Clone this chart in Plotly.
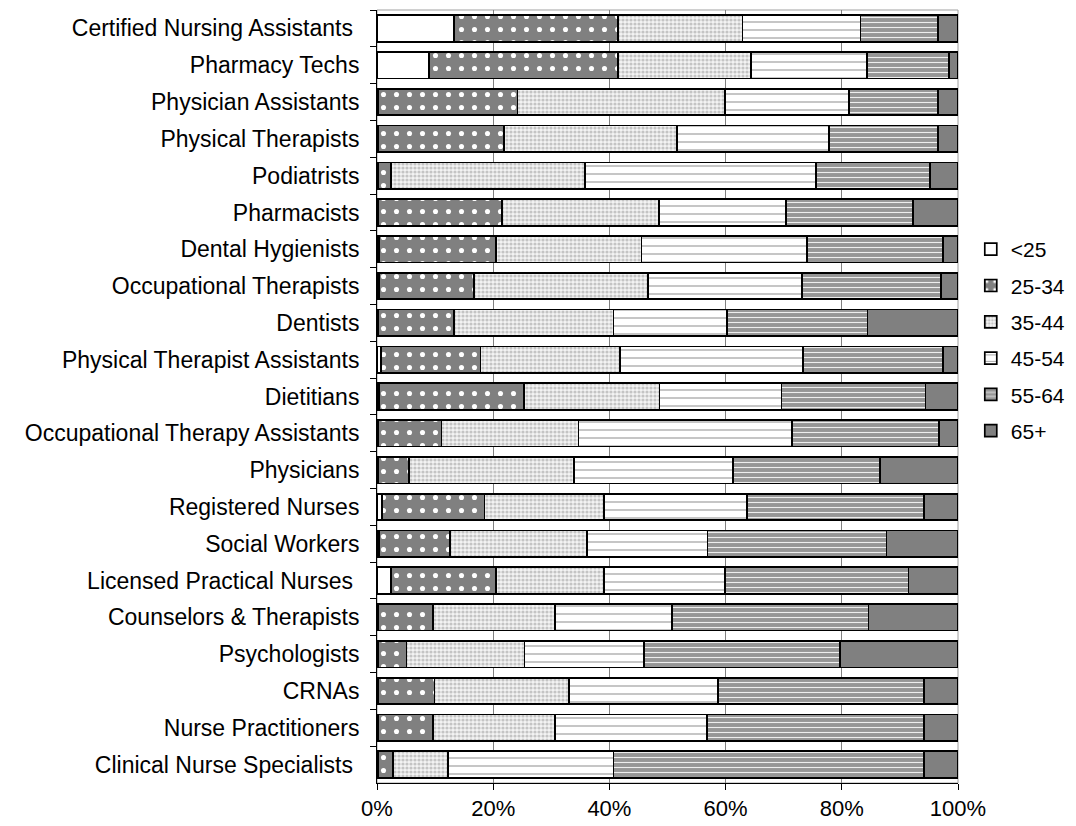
import plotly.graph_objects as go

categories = [
    "Certified Nursing Assistants\u00a0",
    "Pharmacy Techs",
    "Physician Assistants",
    "Physical Therapists",
    "Podiatrists",
    "Pharmacists",
    "Dental Hygienists",
    "Occupational Therapists",
    "Dentists",
    "Physical Therapist Assistants",
    "Dietitians",
    "Occupational Therapy Assistants",
    "Physicians",
    "Registered Nurses",
    "Social Workers",
    "Licensed Practical Nurses\u00a0",
    "Counselors & Therapists",
    "Psychologists",
    "CRNAs",
    "Nurse Practitioners",
    "Clinical Nurse Specialists\u00a0",
]

# cumulative boundaries (%), converted to shares below
cum_lt25 = [13.3, 8.9, 0.2, 0.2, 0.2, 0.2, 0.3, 0.3, 0.2, 0.7, 0.3, 0.2, 0.2, 0.9, 0.3, 2.4, 0.2, 0.2, 0.2, 0.2, 0.2]
cum_25_34 = [41.5, 41.5, 24.2, 21.9, 2.4, 21.5, 20.5, 16.7, 13.3, 17.8, 25.3, 11.1, 5.5, 18.5, 12.6, 20.5, 9.6, 5.1, 9.9, 9.6, 2.8]
cum_35_44 = [62.9, 64.4, 59.9, 51.6, 35.8, 48.5, 45.5, 46.7, 40.7, 41.8, 48.6, 34.7, 33.9, 39.1, 36.2, 39.1, 30.6, 25.4, 33.1, 30.6, 12.2]
cum_45_54 = [83.2, 84.3, 81.2, 77.8, 75.6, 70.4, 74.0, 73.1, 60.2, 73.3, 69.6, 71.4, 61.3, 63.7, 56.9, 59.9, 50.8, 46.0, 58.7, 56.8, 40.7]
cum_55_64 = [96.6, 98.5, 96.6, 96.6, 95.2, 92.2, 97.4, 97.1, 84.4, 97.4, 94.4, 96.7, 86.6, 94.1, 87.7, 91.5, 84.6, 79.7, 94.1, 94.1, 94.1]

series_names = ["<25", "25-34", "35-44", "45-54", "55-64", "65+"]

tick_vals = [0, 20, 40, 60, 80, 100]
tick_text = ["0%", "20%", "40%", "60%", "80%", "100%"]

cums = [cum_lt25, cum_25_34, cum_35_44, cum_45_54, cum_55_64, [100.0] * len(categories)]
shares = []
prev = [0.0] * len(categories)
for c in cums:
    shares.append([round(v - p, 2) for v, p in zip(c, prev)])
    prev = c

styles = [
    dict(color="#ffffff", pattern=dict(shape="")),
    dict(color="#808080", pattern=dict(shape=".", fgcolor="#ffffff", bgcolor="#808080", size=13, solidity=0.12, fillmode="replace")),
    dict(color="#d9d9d9", pattern=dict(shape=".", fgcolor="#c4c4c4", bgcolor="#f4f4f4", size=4, solidity=0.5, fillmode="replace")),
    dict(color="#ffffff", pattern=dict(shape="-", fgcolor="#a0a0a0", bgcolor="#ffffff", size=8, solidity=0.15, fillmode="replace")),
    dict(color="#9a9a9a", pattern=dict(shape="-", fgcolor="#eeeeee", bgcolor="#969696", size=5, solidity=0.22, fillmode="replace")),
    dict(color="#808080", pattern=dict(shape="")),
]

fig = go.Figure()
for name, vals, st in zip(series_names, shares, styles):
    fig.add_trace(go.Bar(
        y=categories, x=vals, name=name, orientation="h",
        legendgroup=name,
        marker=dict(color=st["color"], pattern=st["pattern"],
                    line=dict(color="#000000", width=1.7)),
        hoverinfo="x+y+name",
    ))

# light frame around the plot area
fig.add_shape(type="rect", xref="paper", yref="paper", x0=0, x1=1, y0=0, y1=1,
              line=dict(color="#a0a0a0", width=1), layer="below")

fig.update_layout(
    width=1068, height=818,
    barmode="stack", bargap=0.28,
    plot_bgcolor="#ffffff", paper_bgcolor="#ffffff",
    margin=dict(l=369, r=118, t=2, b=43),
    font=dict(family="Liberation Sans, Arial, sans-serif", size=22, color="#000000"),
    legend=dict(x=1.022, y=0.573, xanchor="left", yanchor="middle",
                traceorder="grouped", tracegroupgap=6,
                font=dict(size=21), itemwidth=30),
    showlegend=True,
)
fig.update_xaxes(
    range=[0, 100], tickvals=tick_vals, ticktext=tick_text,
    showgrid=True, gridcolor="#808080", gridwidth=1,
    showline=True, linecolor="#000000", linewidth=1,
    ticks="outside", ticklen=6, tickcolor="#000000", zeroline=False,
    automargin=False,
)
fig.update_yaxes(
    autorange="reversed", type="category",
    showline=True, linecolor="#000000", linewidth=1,
    ticks="outside", ticklen=6, tickcolor="#000000", tickson="boundaries",
    showgrid=False, ticklabelstandoff=12, automargin=False,
    tickfont=dict(size=23),
)

fig.write_html("out.html")
